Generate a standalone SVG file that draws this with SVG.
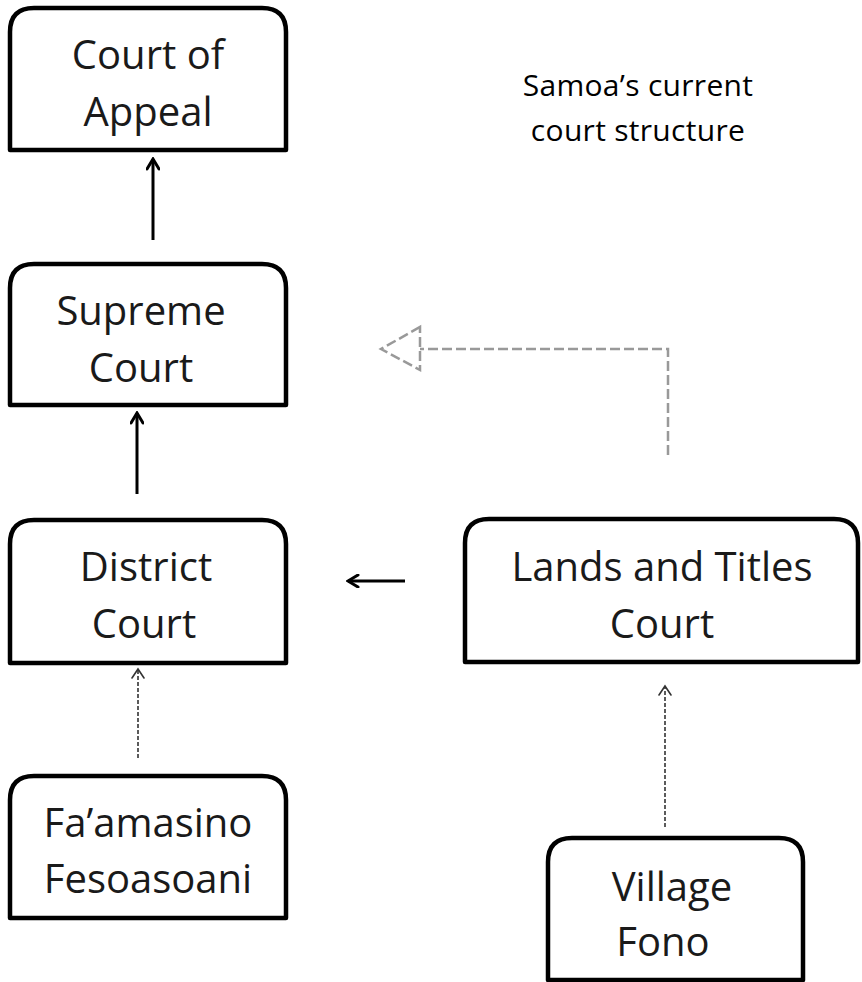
<svg xmlns="http://www.w3.org/2000/svg" width="862" height="982" viewBox="0 0 862 982">
<style>
.box{fill:#fff;stroke:#000;stroke-width:4.5;stroke-linejoin:round}
.t{font-family:"Open Sans","Liberation Sans",sans-serif;font-size:40px;fill:#1a1a1a;text-anchor:middle}
.title{font-family:"Open Sans","Liberation Sans",sans-serif;font-size:30px;font-weight:500;fill:#000;text-anchor:middle;letter-spacing:0.3px}
.solid{stroke:#000;stroke-width:3;fill:none}
.dot{stroke:#333;stroke-width:1.6;stroke-dasharray:4 2;fill:none}
.grey{stroke:#999;stroke-width:2.5;stroke-dasharray:10 4;fill:none}
</style>
<defs>
<marker id="open" markerWidth="14" markerHeight="14" refX="12" refY="7" orient="auto" markerUnits="userSpaceOnUse" viewBox="0 0 14 14">
<path d="M2,1 L12,7 L2,13" fill="none" stroke="#000" stroke-width="3" stroke-linecap="round"/>
</marker>
<marker id="openthin" markerWidth="14" markerHeight="14" refX="12" refY="7" orient="auto" markerUnits="userSpaceOnUse" viewBox="0 0 14 14">
<path d="M3,1 L12,7 L3,13" fill="none" stroke="#333" stroke-width="1.6" stroke-linecap="round"/>
</marker>
</defs>
<g id="court-of-appeal">
<path class="box" d="M10,150 V32 Q10,8 34,8 H262 Q286,8 286,32 V150 Z"/>
<text class="t" x="148" y="69">Court of</text>
<text class="t" x="148" y="126">Appeal</text>
</g>
<g id="supreme-court">
<path class="box" d="M10,405 V288 Q10,264 34,264 H262 Q286,264 286,288 V405 Z"/>
<text class="t" x="141" y="325">Supreme</text>
<text class="t" x="141" y="382">Court</text>
</g>
<g id="district-court">
<path class="box" d="M10,663 V544 Q10,520 34,520 H262 Q286,520 286,544 V663 Z"/>
<text class="t" x="146" y="581">District</text>
<text class="t" x="144" y="638">Court</text>
</g>
<g id="faamasino-fesoasoani">
<path class="box" d="M10,918 V800 Q10,776 34,776 H262 Q286,776 286,800 V918 Z"/>
<text class="t" x="148" y="837">Fa’amasino</text>
<text class="t" x="148" y="893">Fesoasoani</text>
</g>
<g id="lands-and-titles-court">
<path class="box" d="M465,662 V543 Q465,519 489,519 H834 Q858,519 858,543 V662 Z"/>
<text class="t" x="662" y="581">Lands and Titles</text>
<text class="t" x="662" y="638">Court</text>
</g>
<g id="village-fono">
<path class="box" d="M548,980 V862 Q548,838 572,838 H779 Q803,838 803,862 V980 Z"/>
<text class="t" x="672" y="901">Village</text>
<text class="t" x="663" y="956">Fono</text>
</g>
<g id="title">
<text class="title" x="638" y="96">Samoa’s current</text>
<text class="title" x="638" y="141">court structure</text>
</g>
<g id="connectors">
<line class="solid" x1="153" y1="240" x2="153" y2="159" marker-end="url(#open)"/>
<line class="solid" x1="137" y1="494" x2="137" y2="413" marker-end="url(#open)"/>
<line class="solid" x1="405" y1="581" x2="348" y2="581" marker-end="url(#open)"/>
<line class="dot" x1="138" y1="758" x2="138" y2="669" marker-end="url(#openthin)"/>
<line class="dot" x1="665" y1="827" x2="665" y2="686" marker-end="url(#openthin)"/>
<path class="grey" d="M668,455 V349 H420"/>
<path class="grey" d="M420,327 L381,349 L420,370 Z"/>
</g>
</svg>
